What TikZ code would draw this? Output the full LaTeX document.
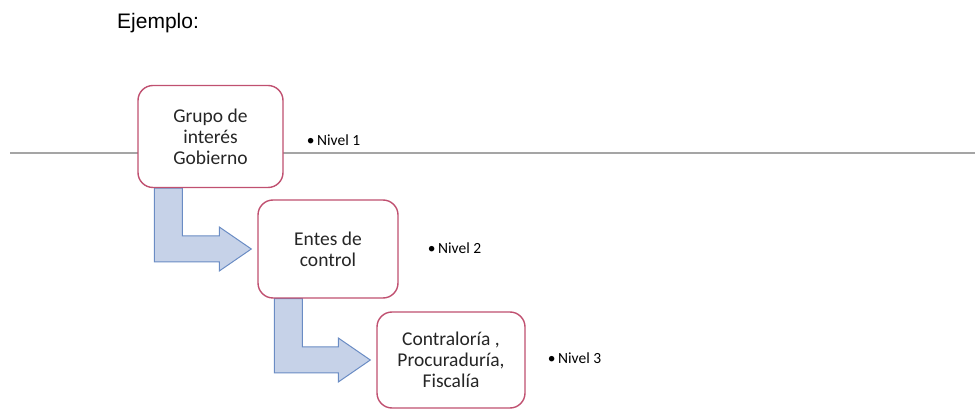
\documentclass[tikz,border=0pt]{standalone}
\usepackage{fontspec}
\setmainfont{Carlito}
\newfontfamily\titlefont{Liberation Sans}
\usetikzlibrary{positioning,backgrounds,calc}
\definecolor{boxline}{RGB}{192,80,112}
\definecolor{arrowfill}{RGB}{198,210,232}
\definecolor{arrowline}{RGB}{106,140,196}
\definecolor{sepline}{RGB}{165,165,165}
\definecolor{boxtext}{RGB}{38,38,38}
\tikzset{
  nivelbox/.style={draw=boxline,line width=1.4pt,fill=white,rounded corners=15pt,
    align=center,inner sep=0pt,text=boxtext,
    font=\fontsize{19.5}{21}\selectfont},
  niveltag/.style={inner sep=0pt,text=black,font=\fontsize{15.5}{17}\selectfont},
  flecha/.style={draw=arrowline,line width=1pt,fill=arrowfill,line join=miter}
}
% bent block arrow from the bottom of #1 to the left side of #2
\newcommand\bentarrow[2]{%
  \path[flecha] let \p1=(#1.south west), \p2=(#2.west) in
    (\x1+17pt,\y1) -- (\x1+17pt,\y2-13pt) -- (\x2-38pt,\y2-13pt)
    -- (\x2-38pt,\y2-22pt) -- (\x2-6pt,\y2) -- (\x2-38pt,\y2+22pt)
    -- (\x2-38pt,\y2+13pt) -- (\x1+45pt,\y2+13pt) -- (\x1+45pt,\y1) -- cycle;
}
\begin{document}
\begin{tikzpicture}[x=1pt,y=-1pt]
  \useasboundingbox (0,0) rectangle (975,411);
  \draw[sepline,line width=1.6pt] (10,153) -- (975,153);
  \node[anchor=west,inner sep=0pt,font=\titlefont\fontsize{21}{23}\selectfont] (titulo) at (117,23) {Ejemplo:};
  % levels
  \node[nivelbox,minimum width=145pt,minimum height=102pt] (g1) at (210.5,136.5) {Grupo de\\interés\\Gobierno};
  \node[nivelbox,minimum width=140pt,minimum height=98pt] (g2) at (328,249) {Entes de\\control};
  \node[nivelbox,minimum width=148pt,minimum height=96pt] (g3) at (451,360) {Contraloría ,\\Procuraduría,\\Fiscalía};
  \node[niveltag,anchor=west] (n1) at ([xshift=23pt,yshift=-4pt]g1.east) {•\hspace{2.5pt}Nivel 1};
  \node[niveltag,anchor=west] (n2) at ([xshift=29pt,yshift=1pt]g2.east) {•\hspace{2.5pt}Nivel 2};
  \node[niveltag,anchor=west] (n3) at ([xshift=22pt,yshift=2pt]g3.east) {•\hspace{2.5pt}Nivel 3};
  \begin{scope}[on background layer]
    \bentarrow{g1}{g2}
    \bentarrow{g2}{g3}
  \end{scope}
\end{tikzpicture}
\end{document}
